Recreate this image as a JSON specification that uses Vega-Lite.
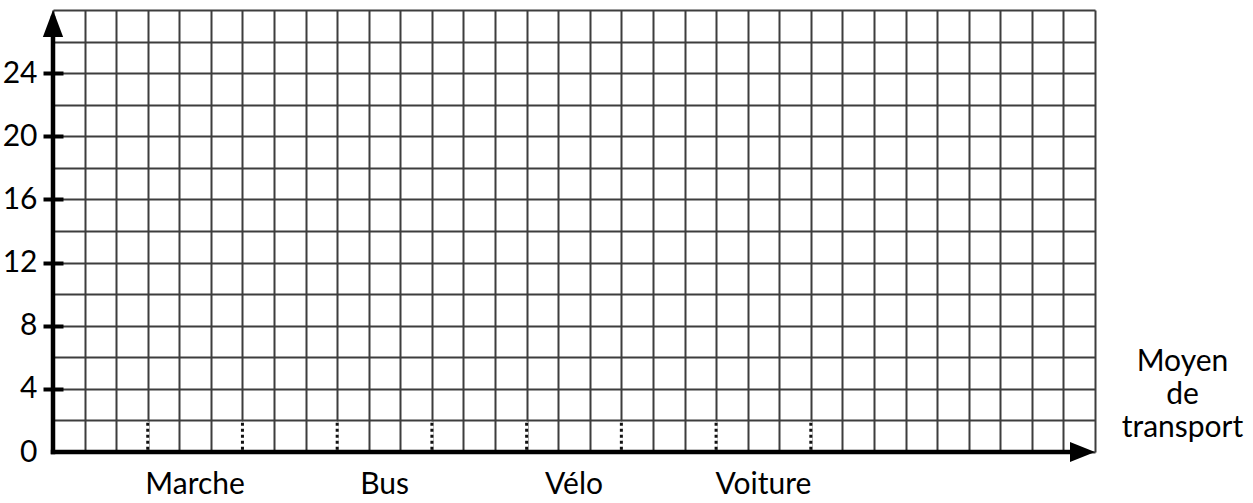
{
  "$schema": "https://vega.github.io/schema/vega-lite/v6.json",
  "autosize": {"type": "none"},
  "padding": {"left": 53, "top": 10, "right": 158, "bottom": 51},
  "width": 1042,
  "height": 442,
  "background": "white",
  "config": {"view": {"stroke": null}, "font": "Lato"},
  "data": {
    "values": [
      {"moyen": "Marche", "debut": 3, "centre": 4.5, "fin": 6},
      {"moyen": "Bus", "debut": 9, "centre": 10.5, "fin": 12},
      {"moyen": "Vélo", "debut": 15, "centre": 16.5, "fin": 18},
      {"moyen": "Voiture", "debut": 21, "centre": 22.5, "fin": 24}
    ]
  },
  "layer": [
    {
      "mark": {"type": "text", "baseline": "alphabetic", "align": "center", "dy": 42, "fontSize": 30, "font": "Lato", "color": "black"},
      "encoding": {
        "x": {
          "field": "centre", "type": "quantitative",
          "scale": {"domain": [0, 33], "nice": false, "zero": false},
          "axis": {
            "values": [0,1,2,3,4,5,6,7,8,9,10,11,12,13,14,15,16,17,18,19,20,21,22,23,24,25,26,27,28,29,30,31,32,33],
            "tickCount": 200,
            "grid": true, "gridColor": "#3d3d3d", "gridWidth": 2,
            "domain": false, "ticks": false, "labels": false,
            "title": ["Moyen", "de", "transport"],
            "titleFont": "Lato", "titleFontSize": 30, "titleFontWeight": "normal", "titleColor": "black",
            "titleAlign": "center", "titleBaseline": "alphabetic", "titleAngle": 0,
            "titleX": 1129, "titleY": -82, "titleLineHeight": 33
          }
        },
        "y": {
          "datum": 0, "type": "quantitative",
          "scale": {"domain": [0, 28], "nice": false},
          "axis": {
            "values": [0,2,4,6,8,10,12,14,16,18,20,22,24,26,28],
            "tickCount": 200,
            "format": "d",
            "grid": true, "gridColor": "#3d3d3d", "gridWidth": 2,
            "domain": false, "offset": -10,
            "tickSize": 20, "tickWidth": 4, "tickColor": "black",
            "tickOpacity": {"condition": {"test": "datum.value % 4 == 0 && datum.value > 0 && datum.value <= 24", "value": 1}, "value": 0},
            "labelExpr": "datum.value % 4 == 0 && datum.value <= 24 ? datum.label : ''",
            "labelFont": "Lato", "labelFontSize": 30, "labelColor": "black", "labelPadding": 6,
            "labelFlush": false, "labelOverlap": false,
            "title": null
          }
        },
        "text": {"field": "moyen", "type": "nominal"}
      }
    },
    {
      "transform": [{"fold": ["debut", "fin"], "as": ["bord", "pos"]}],
      "layer": [
        {
          "mark": {"type": "rule", "color": "white", "strokeWidth": 3},
          "encoding": {
            "x": {"field": "pos", "type": "quantitative"},
            "y": {"datum": 0.15, "type": "quantitative"},
            "y2": {"datum": 1.92}
          }
        },
        {
          "mark": {"type": "rule", "color": "#111111", "strokeWidth": 3, "strokeDash": [3, 3]},
          "encoding": {
            "x": {"field": "pos", "type": "quantitative"},
            "y": {"datum": 0.15, "type": "quantitative"},
            "y2": {"datum": 1.92}
          }
        }
      ]
    },
    {
      "data": {"values": [{}]},
      "mark": {"type": "rule", "color": "black", "strokeWidth": 4.5, "strokeCap": "square"},
      "encoding": {
        "x": {"datum": 0, "type": "quantitative"},
        "y": {"datum": 0, "type": "quantitative"},
        "y2": {"datum": 27.5}
      }
    },
    {
      "data": {"values": [{}]},
      "mark": {"type": "rule", "color": "black", "strokeWidth": 4.5, "strokeCap": "square"},
      "encoding": {
        "x": {"datum": 0, "type": "quantitative"},
        "x2": {"datum": 32.6},
        "y": {"datum": 0, "type": "quantitative"}
      }
    },
    {
      "data": {"values": [{}]},
      "mark": {"type": "point", "shape": "M0,0L0.75,2L-0.75,2Z", "size": 729, "filled": true, "color": "black", "opacity": 1},
      "encoding": {
        "x": {"datum": 0, "type": "quantitative"},
        "y": {"datum": 28, "type": "quantitative"}
      }
    },
    {
      "data": {"values": [{}]},
      "mark": {"type": "point", "shape": "M0,0L-2,-0.8L-2,0.8Z", "size": 625, "filled": true, "color": "black", "opacity": 1},
      "encoding": {
        "x": {"datum": 33, "type": "quantitative"},
        "y": {"datum": 0, "type": "quantitative"}
      }
    }
  ]
}
